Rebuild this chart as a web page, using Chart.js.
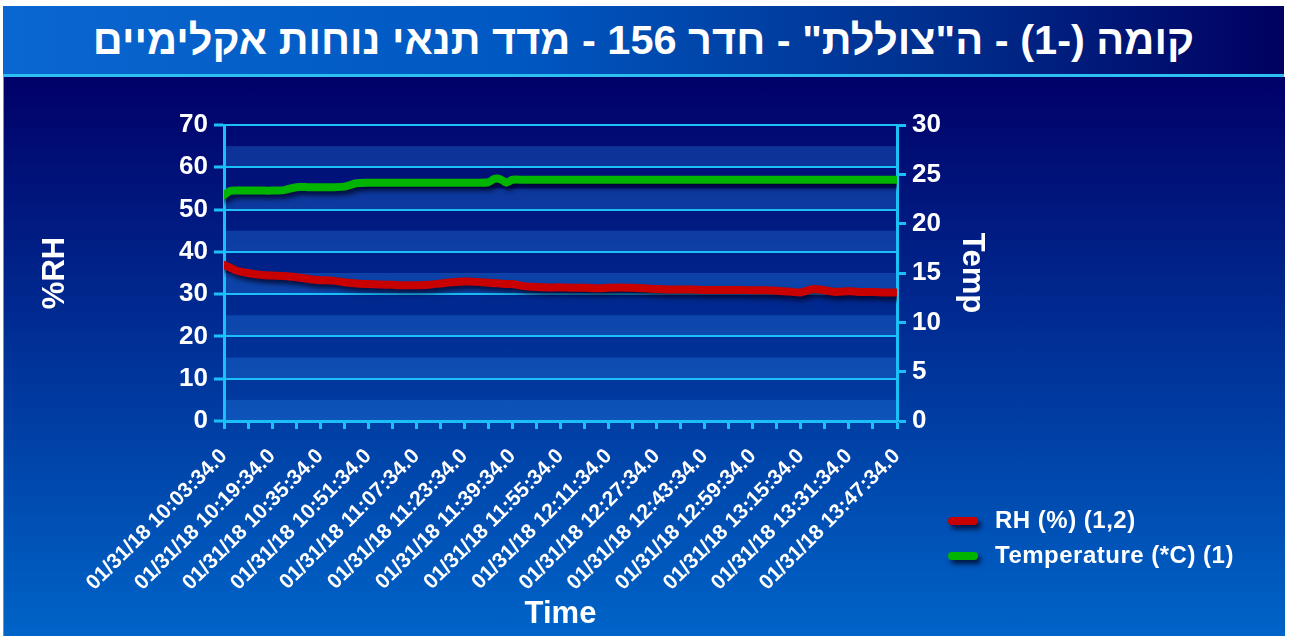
<!DOCTYPE html>
<html>
<head>
<meta charset="utf-8">
<title>מדד תנאי נוחות אקלימיים</title>
<script src="https://cdn.jsdelivr.net/npm/chart.js"></script>
<style>
    body { margin: 0; width: 1290px; height: 636px; overflow: hidden; background: #fff; font-family: "Liberation Sans", Arial, sans-serif; }
    .banner { position: absolute; left: 3px; top: 6px; width: 1281px; height: 68px;
        background: linear-gradient(to right, #0a66d0 0%, #0058c2 40%, #00308f 72%, #000060 100%);
        border-bottom: 3px solid #2cc0f2; color: #fff; font-weight: bold; font-size: 41.5px;
        text-align: center; line-height: 68px; direction: rtl; }
    .panel { position: absolute; left: 3px; top: 77px; width: 1281px; height: 559px;
        background: linear-gradient(to bottom, #000068, #0064c8); border-left: 1px solid #3aa6e8; }
    #chart { position: absolute; left: 0; top: 78px; }
</style>
</head>
<body>
    <div class="banner">קומה (-1) - ה"צוללת" - חדר 156 - מדד תנאי נוחות אקלימיים</div>
    <div class="panel"></div>
    <canvas id="chart" width="1290" height="558"></canvas>

<script>
    // minutes after 01/31/18 10:03:34
    const minutes = [0, 2, 4, 8, 12, 16, 20, 24, 28, 32, 36, 40, 44, 48, 52, 56, 60, 64, 68, 72, 76, 80, 84, 88, 90, 92, 94, 96,
        100, 104, 108, 112, 116, 120, 124, 128, 132, 136, 140, 144, 148, 152, 156, 160, 164, 168, 172, 176, 180, 184, 188,
        192, 196, 200, 204, 208, 212, 216, 220, 224];
    const rhValues = [36.9, 36.3, 35.6, 35.0, 34.6, 34.4, 34.3, 34.0, 33.6, 33.3, 33.2, 32.8, 32.5, 32.4, 32.3, 32.2, 32.1, 32.1, 32.2, 32.5, 32.8, 33.0, 32.9, 32.7, 32.6, 32.5, 32.4, 32.4,
        31.9, 31.7, 31.6, 31.6, 31.5, 31.5, 31.4, 31.5, 31.6, 31.5, 31.4, 31.2, 31.1, 31.1, 31.1, 31.0, 31.0, 31.0, 31.0, 30.9, 30.9, 30.8, 30.6,
        30.4, 31.2, 30.9, 30.5, 30.7, 30.5, 30.5, 30.4, 30.4];
    const tempValues = [22.9, 23.3, 23.35, 23.35, 23.35, 23.35, 23.4, 23.7, 23.7, 23.7, 23.7, 23.75, 24.1, 24.15, 24.15, 24.15, 24.15, 24.15, 24.15, 24.15, 24.15, 24.15, 24.15, 24.2, 24.55, 24.5, 24.15, 24.45,
        24.45, 24.45, 24.45, 24.45, 24.45, 24.45, 24.45, 24.45, 24.45, 24.45, 24.45, 24.45, 24.45, 24.45, 24.45, 24.45, 24.45, 24.45, 24.45, 24.45, 24.45, 24.45, 24.45,
        24.45, 24.45, 24.45, 24.45, 24.45, 24.45, 24.45, 24.45, 24.45];
    const timeLabels = ['01/31/18 10:03:34.0', '01/31/18 10:19:34.0', '01/31/18 10:35:34.0', '01/31/18 10:51:34.0',
        '01/31/18 11:07:34.0', '01/31/18 11:23:34.0', '01/31/18 11:39:34.0', '01/31/18 11:55:34.0',
        '01/31/18 12:11:34.0', '01/31/18 12:27:34.0', '01/31/18 12:43:34.0', '01/31/18 12:59:34.0',
        '01/31/18 13:15:34.0', '01/31/18 13:31:34.0', '01/31/18 13:47:34.0'];

    const cyan = '#1cc0f8';
    const bold = (size) => ({ family: '"Liberation Sans", Arial, sans-serif', size: size, weight: 'bold' });

    // lighter bands between every other gridline
    const bandsPlugin = {
        id: 'bands',
        beforeDraw(chart) {
            const { ctx, chartArea, scales } = chart;
            ctx.save();
            ctx.fillStyle = 'rgba(40, 130, 230, 0.32)';
            for (let v = 0; v < 70; v += 10) {
                const y0 = scales.y.getPixelForValue(v);
                const y1 = scales.y.getPixelForValue(v + 5);
                ctx.fillRect(chartArea.left, y1, chartArea.right - chartArea.left, y0 - y1);
            }
            ctx.restore();
        }
    };

    const shadowPlugin = {
        id: 'lineShadow',
        beforeDatasetDraw(chart) {
            const ctx = chart.ctx;
            ctx.save();
            ctx.shadowColor = 'rgba(0, 0, 30, 0.75)';
            ctx.shadowOffsetX = 3;
            ctx.shadowOffsetY = 4;
            ctx.shadowBlur = 5;
        },
        afterDatasetDraw(chart) {
            chart.ctx.restore();
        }
    };

    // legend in the lower right corner
    const legendPlugin = {
        id: 'cornerLegend',
        afterDraw(chart) {
            const ctx = chart.ctx;
            ctx.save();
            chart.data.datasets.forEach((ds, i) => {
                const y = 443 + i * 35;
                ctx.save();
                ctx.shadowColor = 'rgba(0, 0, 30, 0.75)';
                ctx.shadowOffsetX = 3;
                ctx.shadowOffsetY = 4;
                ctx.shadowBlur = 5;
                ctx.strokeStyle = ds.borderColor;
                ctx.lineWidth = 8;
                ctx.lineCap = 'round';
                ctx.beginPath();
                ctx.moveTo(952, y);
                ctx.lineTo(974, y);
                ctx.stroke();
                ctx.restore();
                ctx.fillStyle = '#fff';
                ctx.font = 'bold 24px "Liberation Sans", Arial, sans-serif';
                ctx.letterSpacing = '0.5px';
                ctx.textBaseline = 'middle';
                ctx.fillText(ds.label, 995, y);
            });
            ctx.restore();
        }
    };

    new Chart(document.getElementById('chart'), {
        type: 'line',
        data: {
            datasets: [
                {
                    label: 'RH (%) (1,2)',
                    data: minutes.map((m, i) => ({ x: m, y: rhValues[i] })),
                    borderColor: '#c80000',
                    yAxisID: 'y'
                },
                {
                    label: 'Temperature (*C) (1)',
                    data: minutes.map((m, i) => ({ x: m, y: tempValues[i] })),
                    borderColor: '#00b400',
                    yAxisID: 'y1'
                }
            ]
        },
        options: {
            responsive: false,
            animation: false,
            layout: { padding: { top: 47, right: 290, bottom: 0, left: 0 } },
            elements: {
                line: { borderWidth: 8, tension: 0.2, borderCapStyle: 'round', borderJoinStyle: 'round' },
                point: { radius: 0 }
            },
            plugins: { legend: { display: false }, tooltip: { enabled: false } },
            scales: {
                x: {
                    type: 'linear',
                    min: 0,
                    max: 224,
                    afterFit: (s) => { s.height = 215; },
                    border: { color: cyan, width: 3 },
                    grid: { drawOnChartArea: false, tickLength: 8, tickColor: cyan, tickWidth: 3 },
                    ticks: {
                        stepSize: 8,
                        autoSkip: false,
                        minRotation: 45,
                        maxRotation: 45,
                        padding: 15,
                        color: '#fff',
                        font: bold(21),
                        callback: (v) => (v % 16 === 0 ? timeLabels[v / 16] : '')
                    },
                    title: { display: true, text: 'Time', color: '#fff', font: bold(31), padding: { top: 0, bottom: 3 } }
                },
                y: {
                    position: 'left',
                    min: 0,
                    max: 70,
                    afterFit: (s) => { s.width = 224; },
                    border: { color: cyan, width: 3 },
                    grid: {
                        color: cyan,
                        lineWidth: 2,
                        tickLength: 10,
                        tickWidth: 3,
                        tickColor: (c) => (c.tick && c.tick.value % 10 === 0 ? cyan : 'rgba(0,0,0,0)')
                    },
                    ticks: {
                        stepSize: 5,
                        padding: 6,
                        color: '#fff',
                        font: bold(26),
                        callback: (v) => (v % 10 === 0 ? v : '')
                    },
                    title: { display: true, text: '%RH', color: '#fff', font: bold(31), padding: { top: 37, bottom: 0 } }
                },
                y1: {
                    position: 'right',
                    min: 0,
                    max: 30,
                    afterFit: (s) => { s.width = 103; },
                    border: { color: cyan, width: 3 },
                    grid: { drawOnChartArea: false, tickLength: 9, tickWidth: 3, tickColor: cyan },
                    ticks: { stepSize: 5, padding: 6, color: '#fff', font: bold(26) },
                    title: { display: true, text: 'Temp', color: '#fff', font: bold(31), padding: { top: 10, bottom: 0 } }
                }
            }
        },
        plugins: [bandsPlugin, shadowPlugin, legendPlugin]
    });
</script>
</body>
</html>
